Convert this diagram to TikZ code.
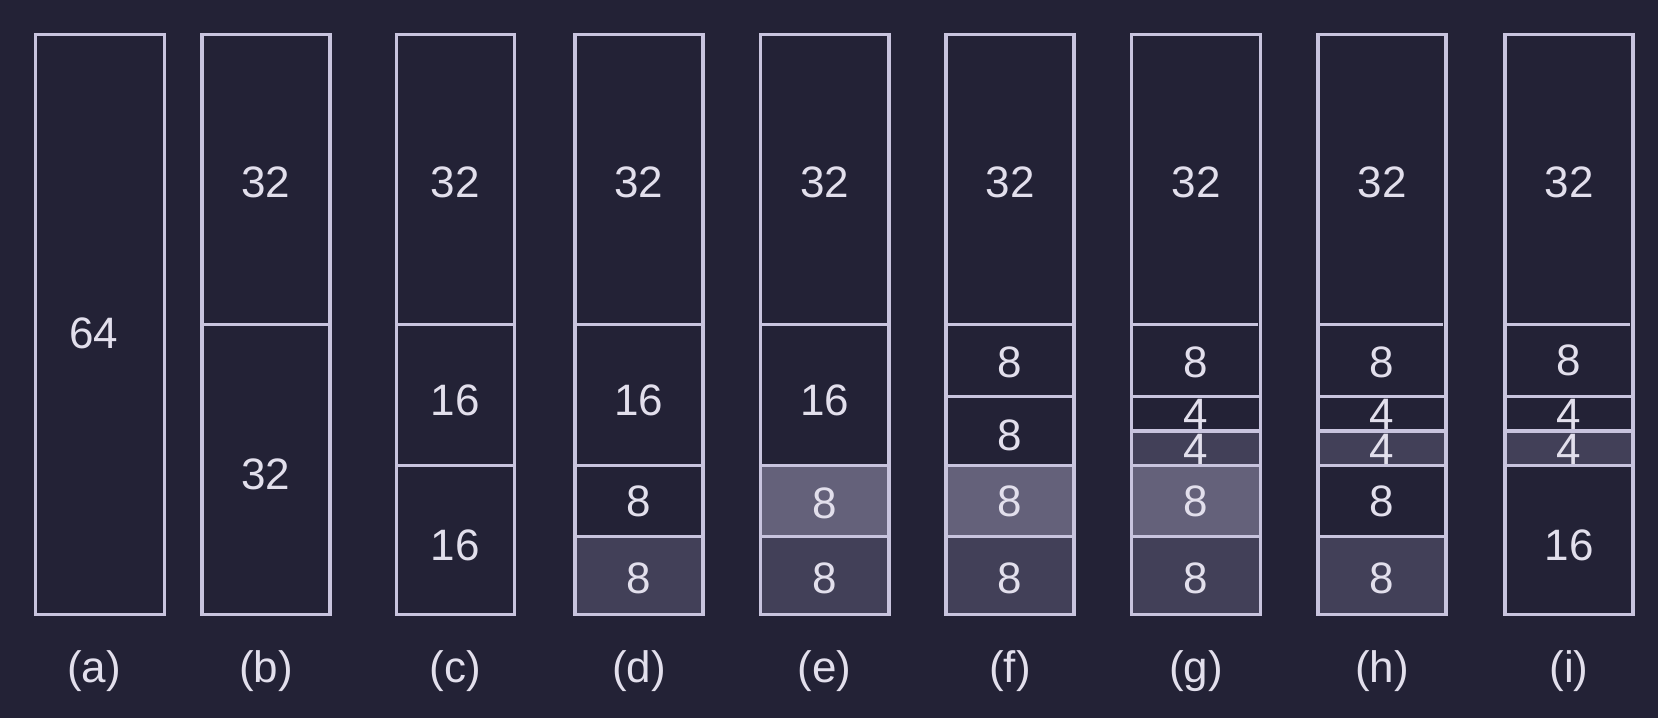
\documentclass[tikz,border=0pt]{standalone}
\usepackage{fontspec}
\setmainfont{Liberation Sans}
\definecolor{bg}{RGB}{35,34,54}
\definecolor{ln}{RGB}{200,196,222}
\definecolor{txt}{RGB}{226,223,236}
\definecolor{darkc}{RGB}{66,64,88}
\definecolor{lightc}{RGB}{100,97,122}
\begin{document}
\begin{tikzpicture}[x=1pt,y=-1pt,
  frame/.style={draw=ln,line width=3.5pt},
  num/.style={text=txt,font=\fontsize{44}{50}\selectfont,inner sep=0pt}]
\fill[bg] (0,0) rectangle (1658,718);
\useasboundingbox (0,0) rectangle (1658,718);
% y levels
\def\yt{34.3}\def\yb{614.5}
\def\ya{324.5}\def\yc{396.5}\def\yd{431}\def\ye{465.5}\def\yf{536.5}
% fills
\fill[darkc] (574.8,\yf) rectangle (703.2,\yb);
\fill[lightc] (760.3,\ye) rectangle (889,\yf);
\fill[darkc] (760.3,\yf) rectangle (889,\yb);
\fill[lightc] (945.8,\ye) rectangle (1074,\yf);
\fill[darkc] (945.8,\yf) rectangle (1074,\yb);
\fill[darkc] (1131.3,\yd) rectangle (1260.7,\ye);
\fill[lightc] (1131.3,\ye) rectangle (1260.7,\yf);
\fill[darkc] (1131.3,\yf) rectangle (1260.7,\yb);
\fill[darkc] (1317.8,\yd) rectangle (1446.2,\ye);
\fill[darkc] (1317.8,\yf) rectangle (1446.2,\yb);
\fill[darkc] (1504.8,\yd) rectangle (1633.2,\ye);
% (a)
\draw[frame] (35.7,\yt) rectangle (164.6,\yb);
% (b)
\draw[frame] (201.8,\yt) rectangle (330.2,\yb);
\draw[frame] (201.8,\ya) -- (330.2,\ya);
% (c)
\draw[frame] (396.3,\yt) rectangle (514.3,\yb);
\draw[frame] (396.3,\ya) -- (514.3,\ya) (396.3,\ye) -- (514.3,\ye);
% (d)
\draw[frame] (574.8,\yt) rectangle (703.2,\yb);
\draw[frame] (574.8,\ya) -- (703.2,\ya) (574.8,\ye) -- (703.2,\ye) (574.8,\yf) -- (703.2,\yf);
% (e)
\draw[frame] (760.3,\yt) rectangle (889,\yb);
\draw[frame] (760.3,\ya) -- (889,\ya) (760.3,\ye) -- (889,\ye) (760.3,\yf) -- (889,\yf);
% (f)
\draw[frame] (945.8,\yt) rectangle (1074,\yb);
\draw[frame] (945.8,\ya) -- (1074,\ya) (945.8,\yc) -- (1074,\yc) (945.8,\ye) -- (1074,\ye) (945.8,\yf) -- (1074,\yf);
% (g)
\draw[frame] (1131.3,\yt) rectangle (1260.7,\yb);
\draw[frame] (1131.3,\ya) -- (1257.5,\ya) (1131.3,\yc) -- (1260.7,\yc) (1131.3,\yd) -- (1260.7,\yd) (1131.3,\ye) -- (1260.7,\ye) (1131.3,\yf) -- (1260.7,\yf);
% (h)
\draw[frame] (1317.8,\yt) rectangle (1446.2,\yb);
\draw[frame] (1317.8,\ya) -- (1443,\ya) (1317.8,\yc) -- (1446.2,\yc) (1317.8,\yd) -- (1446.2,\yd) (1317.8,\ye) -- (1446.2,\ye) (1317.8,\yf) -- (1446.2,\yf);
% (i)
\draw[frame] (1504.8,\yt) rectangle (1633.2,\yb);
\draw[frame] (1504.8,\ya) -- (1629.5,\ya) (1504.8,\yc) -- (1633.2,\yc) (1504.8,\yd) -- (1633.2,\yd) (1504.8,\ye) -- (1633.2,\ye);
% texts
\node[num] (a1) at (94,333) {64};
\node[num] (b1) at (266,182) {32};
\node[num] (b2) at (266,474) {32};
\node[num] (c1) at (455.3,182) {32};
\node[num] (c2) at (455.3,400.5) {16};
\node[num] (c3) at (455.3,545) {16};
\node[num] (d1) at (639,182) {32};
\node[num] (d2) at (639,400.5) {16};
\node[num] (d3) at (639,501) {8};
\node[num] (d4) at (639,578) {8};
\node[num] (e1) at (824.6,182) {32};
\node[num] (e2) at (824.6,400.5) {16};
\node[num] (e3) at (824.6,503) {8};
\node[num] (e4) at (824.6,578) {8};
\node[num] (f1) at (1010,182) {32};
\node[num] (f2) at (1010,362) {8};
\node[num] (f3) at (1010,435) {8};
\node[num] (f4) at (1010,501) {8};
\node[num] (f5) at (1010,578) {8};
\node[num] (g1) at (1196,182) {32};
\node[num] (g2) at (1196,362) {8};
\node[num] (g3) at (1196,414) {4};
\node[num] (g4) at (1196,449) {4};
\node[num] (g5) at (1196,501) {8};
\node[num] (g6) at (1196,578) {8};
\node[num] (h1) at (1382,182) {32};
\node[num] (h2) at (1382,362) {8};
\node[num] (h3) at (1382,414) {4};
\node[num] (h4) at (1382,449) {4};
\node[num] (h5) at (1382,501) {8};
\node[num] (h6) at (1382,578) {8};
\node[num] (i1) at (1569,182) {32};
\node[num] (i2) at (1569,360) {8};
\node[num] (i3) at (1569,414) {4};
\node[num] (i4) at (1569,449) {4};
\node[num] (i5) at (1569,545) {16};
% labels
\node[num] (la) at (94,671) {(a)};
\node[num] (lb) at (266,671) {(b)};
\node[num] (lc) at (455.3,671) {(c)};
\node[num] (ld) at (639,671) {(d)};
\node[num] (le) at (824.6,671) {(e)};
\node[num] (lf) at (1010,671) {(f)};
\node[num] (lg) at (1196,671) {(g)};
\node[num] (lh) at (1382,671) {(h)};
\node[num] (li) at (1569,671) {(i)};
\end{tikzpicture}
\end{document}
